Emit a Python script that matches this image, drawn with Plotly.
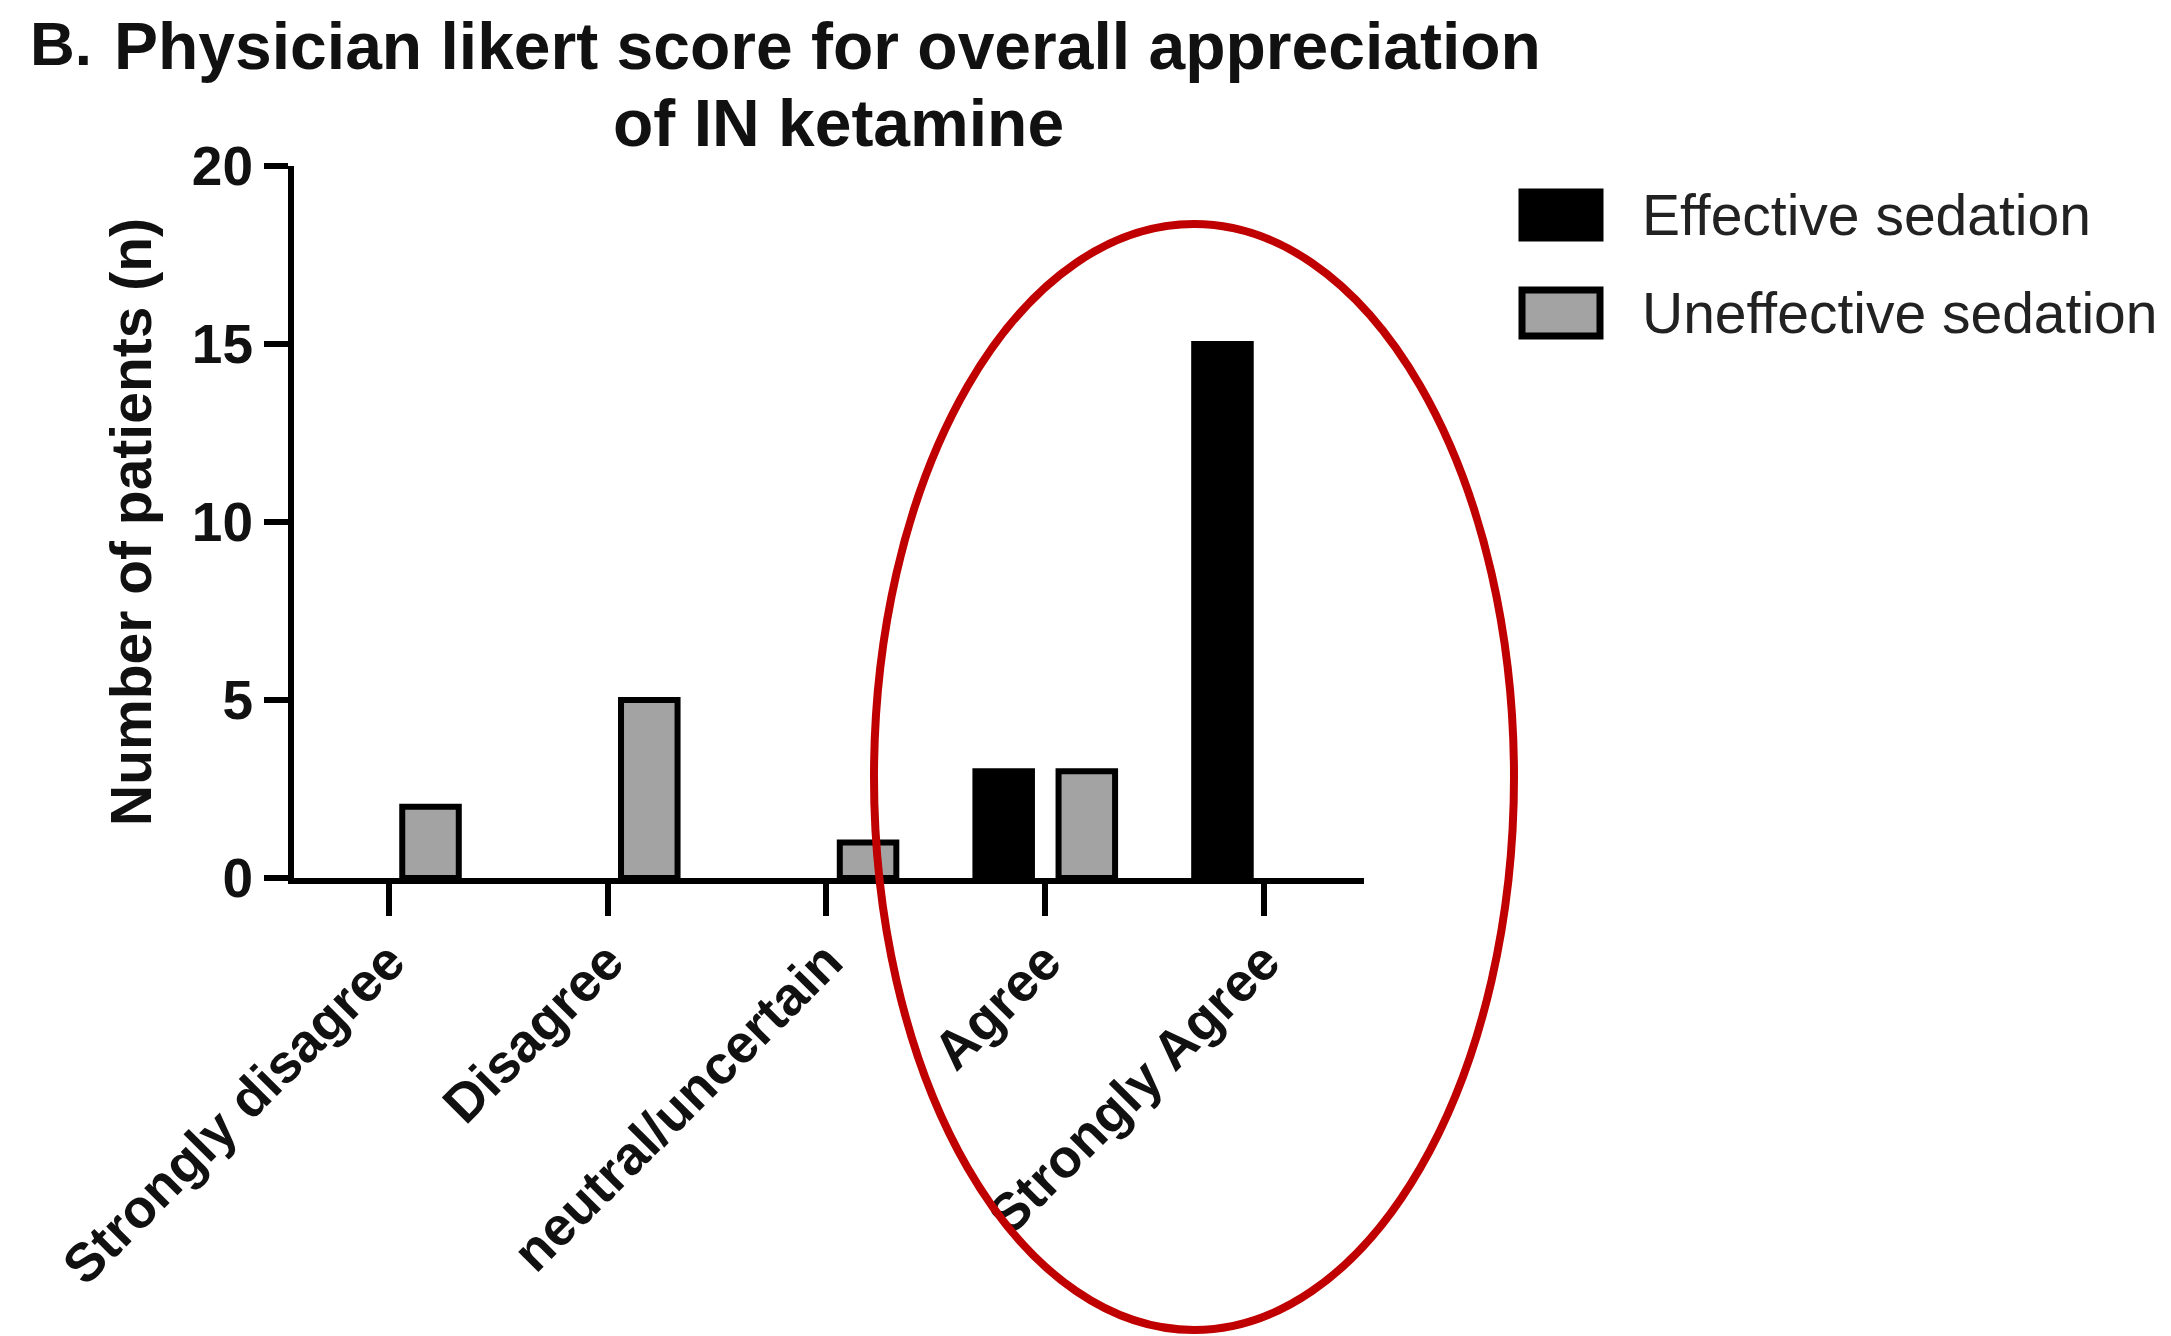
import plotly.graph_objects as go

categories = ["Strongly disagree", "Disagree", "neutral/uncertain", "Agree", "Strongly Agree"]
effective = [0, 0, 0, 3, 15]
uneffective = [2, 5, 1, 3, 0]
series_names = ["Effective sedation", "Uneffective sedation"]
series_colors = ["#000000", "#a3a3a3"]
y_ticks = [0, 5, 10, 15, 20]

W, H = 2171, 1336
OFF = 8  # default page body margin
# target plot area in screen pixels
SX0, SX1, SY0, SY1 = 294, 1364, 166, 878
L, T = SX0 - OFF, SY0 - OFF
R, B = W - (SX1 - OFF), H - (SY1 - OFF)
pw, ph = SX1 - SX0, SY1 - SY0

def px(x):
    return (x - SX0) / pw

def py(y):
    return (SY1 - y) / ph

FONT = "Liberation Sans, Arial, sans-serif"

fig = go.Figure()
for name, vals, col in zip(series_names, [effective, uneffective], series_colors):
    fig.add_trace(go.Bar(
        x=list(range(len(categories))), y=vals, name=name,
        marker=dict(color=col, line=dict(color="#000000",
                                         width=[6 if v > 0 else 0 for v in vals])),
        showlegend=False,
    ))

fig.update_layout(
    width=W, height=H,
    margin=dict(l=L, r=R, t=T, b=B),
    paper_bgcolor="white", plot_bgcolor="white",
    barmode="group", bargap=0.24, bargroupgap=0.32,
    font=dict(family=FONT, color="#111111"),
    xaxis=dict(
        tickmode="array", tickvals=list(range(len(categories))), ticktext=categories,
        range=[-0.434, 4.457], showline=True, linecolor="#000000", linewidth=6,
        ticks="outside", ticklen=32, tickwidth=6, tickcolor="#000000",
        tickangle=-45, showgrid=False, zeroline=False, ticklabelstandoff=-8,
        tickfont=dict(family=FONT, size=54, color="#111111", weight="bold"),
    ),
    yaxis=dict(
        range=[0, 20], tickvals=y_ticks, showline=True, linecolor="#000000", linewidth=6,
        ticks="outside", ticklen=24, tickwidth=6, tickcolor="#000000",
        showgrid=False, zeroline=False,
        tickfont=dict(family=FONT, size=55, color="#111111", weight="bold"),
        title=dict(text="Number of patients (n)", standoff=24,
                   font=dict(family=FONT, size=57, color="#111111", weight="bold")),
    ),
)

# Title
fig.add_annotation(
    text="Physician likert score for overall appreciation",
    xref="paper", yref="paper", x=px(827), y=py(46), xanchor="center", yanchor="middle",
    showarrow=False, font=dict(family=FONT, size=66, color="#111111", weight="bold"),
)
fig.add_annotation(
    text="of IN ketamine",
    xref="paper", yref="paper", x=px(838), y=py(123), xanchor="center", yanchor="middle",
    showarrow=False, font=dict(family=FONT, size=66, color="#111111", weight="bold"),
)
fig.add_annotation(
    text="B.", xref="paper", yref="paper", x=px(28), y=py(44), xanchor="left", yanchor="middle",
    showarrow=False, font=dict(family=FONT, size=62, color="#111111", weight="bold"),
)

# Legend (custom, large swatches)
leg_y = [215, 313]
for name, col, yc in zip(series_names, series_colors, leg_y):
    fig.add_shape(type="rect", xref="paper", yref="paper",
                  x0=px(1522), x1=px(1600), y0=py(yc - 23), y1=py(yc + 23),
                  fillcolor=col, line=dict(color="#000000", width=7))
    fig.add_annotation(text=name, xref="paper", yref="paper", x=px(1640), y=py(yc),
                       xanchor="left", yanchor="middle", showarrow=False,
                       font=dict(family=FONT, size=57, color="#222222"))

# Red ellipse highlight
fig.add_shape(type="circle", xref="paper", yref="paper",
              x0=px(874), x1=px(1514), y0=py(1330), y1=py(224),
              line=dict(color="#c00000", width=8), fillcolor="rgba(0,0,0,0)")

fig.write_html("out.html")
